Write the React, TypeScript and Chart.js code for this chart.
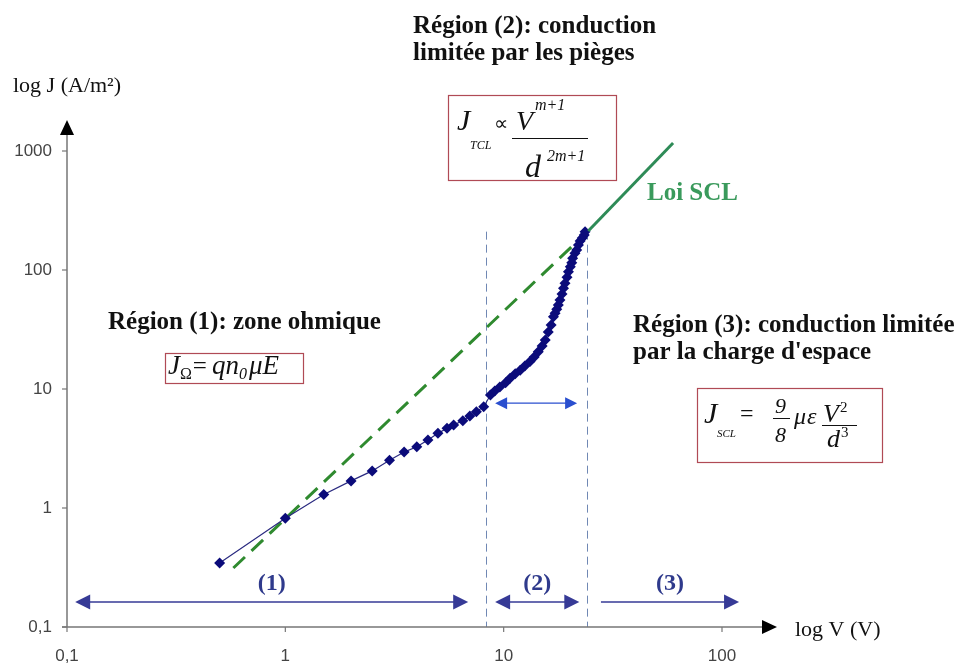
import React, { useEffect, useRef } from 'react';
import { Chart, registerables } from 'chart.js';

Chart.register(...registerables);

// ---- data ----
const voltage = [0.5, 1, 1.5, 2, 2.5, 3, 3.5, 4, 4.5, 5, 5.5, 5.9, 6.5, 7, 7.5, 8.1, 8.7, 9.1, 9.6, 10.2, 10.7, 11.3, 11.9, 12.5, 13.2, 13.8, 14.4, 15.0, 15.5, 16.0, 16.5, 16.9, 17.2, 17.5, 17.8, 18.1, 18.5, 18.8, 19.1, 19.5, 19.8, 20.2, 20.5, 20.7, 21.2, 21.6, 22.0, 22.4, 22.9, 23.4, 23.6];
const current = [0.345, 0.82, 1.3, 1.69, 2.05, 2.52, 2.95, 3.27, 3.73, 4.24, 4.67, 4.98, 5.42, 5.93, 6.44, 7.1, 8.9, 9.6, 10.4, 11.3, 12.3, 13.4, 14.4, 15.6, 17.0, 18.6, 20.6, 23.0, 25.8, 30.1, 34.5, 40.5, 43.3, 46.7, 50.8, 56.0, 62.9, 70.2, 77.3, 86.8, 96.7, 106.6, 115.2, 125.4, 138, 147.2, 162.3, 175, 186, 197, 210];

const sclDashedV = [0.578, 24.4];
const sclDashedJ = [0.313, 213];
const sclSolidV = [24.4, 59.7];
const sclSolidJ = [213, 1167];

const xTicks = [0.1, 1, 10, 100];
const yTicks = [0.1, 1, 10, 100, 1000];

const boundaryVoltage = [8.28, 24.0];
const boundaryTop = 210;

const regionLabels = ['(1)', '(2)', '(3)'];
const regionStart = [0.109, 9.14, 27.9];
const regionEnd = [6.88, 22.2, 119.7];
const regionLeftHead = [true, true, false];
const regionLevel = 0.162;

const trapArrowV = [9.14, 21.7];
const trapArrowJ = 7.6;

const SERIF = '"Liberation Serif", "Times New Roman", serif';
const SANS = '"Liberation Sans", Arial, sans-serif';

const fmtTick = (v: number) => (v < 1 ? String(v).replace('.', ',') : String(v));

function hHead(ctx: CanvasRenderingContext2D, x: number, y: number, dir: number, len: number, half: number) {
  ctx.beginPath();
  ctx.moveTo(x, y);
  ctx.lineTo(x - dir * len, y - half);
  ctx.lineTo(x - dir * len, y + half);
  ctx.closePath();
  ctx.fill();
}

function txt(ctx: CanvasRenderingContext2D, t: string, x: number, y: number, font: string, color: string) {
  ctx.font = font;
  ctx.fillStyle = color;
  ctx.fillText(t, x, y);
}

type Seg = { t: string; font: string; dx?: number; dy?: number };
function rich(ctx: CanvasRenderingContext2D, segs: Seg[], x: number, y: number, color: string) {
  let cx = x;
  ctx.fillStyle = color;
  for (const s of segs) {
    ctx.font = s.font;
    cx += s.dx ?? 0;
    ctx.fillText(s.t, cx, y + (s.dy ?? 0));
    cx += ctx.measureText(s.t).width;
  }
}

function hline(ctx: CanvasRenderingContext2D, x1: number, x2: number, y: number) {
  ctx.beginPath();
  ctx.moveTo(x1, y);
  ctx.lineTo(x2, y);
  ctx.stroke();
}

const annotations = {
  id: 'annotations',
  beforeDatasetsDraw(chart: any) {
    const { ctx, chartArea, scales } = chart;
    const x = scales.x;
    const y = scales.y;
    const left = x.getPixelForValue(xTicks[0]);
    const bottom = y.getPixelForValue(yTicks[0]);
    ctx.save();
    // boundary dashed lines
    ctx.strokeStyle = '#7088b4';
    ctx.lineWidth = 1;
    ctx.setLineDash([8, 5]);
    boundaryVoltage.forEach((v) => {
      const px = Math.round(x.getPixelForValue(v)) + 0.5;
      ctx.beginPath();
      ctx.moveTo(px, y.getPixelForValue(boundaryTop));
      ctx.lineTo(px, bottom);
      ctx.stroke();
    });
    ctx.setLineDash([]);
    // axes
    ctx.strokeStyle = '#777';
    ctx.lineWidth = 1.5;
    const axTop = chartArea.top - 31;
    const axRight = chartArea.right + 55;
    ctx.beginPath();
    ctx.moveTo(left, bottom);
    ctx.lineTo(left, axTop + 12);
    ctx.moveTo(left - 5, bottom);
    ctx.lineTo(axRight - 12, bottom);
    ctx.stroke();
    ctx.lineWidth = 1.2;
    yTicks.forEach((v) => {
      const py = y.getPixelForValue(v);
      hline(ctx, left - 5, left, py);
    });
    xTicks.forEach((v) => {
      const px = x.getPixelForValue(v);
      ctx.beginPath();
      ctx.moveTo(px, bottom);
      ctx.lineTo(px, bottom + 5);
      ctx.stroke();
    });
    ctx.fillStyle = '#000';
    ctx.beginPath();
    ctx.moveTo(left, axTop);
    ctx.lineTo(left - 7, axTop + 15);
    ctx.lineTo(left + 7, axTop + 15);
    ctx.closePath();
    ctx.fill();
    hHead(ctx, axRight, bottom, 1, 15, 7);
    ctx.restore();
  },
  afterDatasetsDraw(chart: any) {
    const { ctx, chartArea, scales } = chart;
    const x = scales.x;
    const y = scales.y;
    ctx.save();
    ctx.textBaseline = 'alphabetic';
    ctx.textAlign = 'left';

    // region arrows
    const ay = y.getPixelForValue(regionLevel);
    regionLabels.forEach((lab, i) => {
      const x1 = x.getPixelForValue(regionStart[i]);
      const x2 = x.getPixelForValue(regionEnd[i]);
      ctx.strokeStyle = '#363a96';
      ctx.fillStyle = '#363a96';
      ctx.lineWidth = 1.5;
      hline(ctx, x1 + (regionLeftHead[i] ? 10 : 0), x2 - 10, ay);
      hHead(ctx, x2, ay, 1, 15, 7.5);
      if (regionLeftHead[i]) hHead(ctx, x1, ay, -1, 15, 7.5);
      ctx.font = `bold 24px ${SERIF}`;
      ctx.fillStyle = '#2f3a8c';
      ctx.textAlign = 'center';
      ctx.fillText(lab, (x1 + x2) / 2, ay - 12);
      ctx.textAlign = 'left';
    });

    // trap region arrow
    const ty = y.getPixelForValue(trapArrowJ);
    const tx1 = x.getPixelForValue(trapArrowV[0]);
    const tx2 = x.getPixelForValue(trapArrowV[1]);
    ctx.strokeStyle = '#2a4fcf';
    ctx.fillStyle = '#2a4fcf';
    ctx.lineWidth = 1.2;
    hline(ctx, tx1 + 8, tx2 - 8, ty);
    hHead(ctx, tx2, ty, 1, 12, 6);
    hHead(ctx, tx1, ty, -1, 12, 6);

    // axis titles
    txt(ctx, 'log J (A/m\u00B2)', 13, 92, `22px ${SERIF}`, '#111');
    txt(ctx, 'log V (V)', chartArea.right + 73, 636, `22px ${SERIF}`, '#111');

    // region titles
    const bold = `bold 25px ${SERIF}`;
    txt(ctx, 'Région (2): conduction', 413, 33, bold, '#111');
    txt(ctx, 'limitée par les pièges', 413, 60, bold, '#111');
    txt(ctx, 'Loi SCL', 647, 200, bold, '#3a9a5c');
    txt(ctx, 'Région (1): zone ohmique', 108, 329, bold, '#111');
    txt(ctx, 'Région (3): conduction limitée', 633, 332, bold, '#111');
    txt(ctx, "par la charge d'espace", 633, 359, bold, '#111');

    // formula boxes
    ctx.strokeStyle = '#b04a55';
    ctx.lineWidth = 1.2;
    ctx.strokeRect(448.5, 95.5, 168, 85);
    ctx.strokeRect(165.5, 353.5, 138, 30);
    ctx.strokeRect(697.5, 388.5, 185, 74);

    const it = (s: number) => `italic ${s}px ${SERIF}`;
    const rg = (s: number) => `${s}px ${SERIF}`;
    const ink = '#111';

    // J_Omega = q n0 mu E
    rich(ctx, [
      { t: 'J', font: it(27) },
      { t: '\u03A9', font: rg(16), dy: 5 },
      { t: '=', font: rg(25), dx: 1 },
      { t: 'qn', font: it(27), dx: 5 },
      { t: '0', font: it(16), dy: 5 },
      { t: '\u03BC', font: it(27), dx: 2 },
      { t: 'E', font: it(27) },
    ], 168, 374, ink);

    // J_TCL ∝ V^(m+1) / d^(2m+1)
    txt(ctx, 'J', 457, 130, it(30), ink);
    txt(ctx, 'TCL', 470, 149, it(12), ink);
    txt(ctx, '\u221D', 494, 130, rg(20), ink);
    txt(ctx, 'V', 516, 130, it(28), ink);
    txt(ctx, 'm+1', 535, 110, it(16), ink);
    ctx.strokeStyle = ink;
    ctx.lineWidth = 1;
    hline(ctx, 512, 588, 138.5);
    txt(ctx, 'd', 525, 177, it(32), ink);
    txt(ctx, '2m+1', 547, 161, it(16), ink);

    // J_SCL = 9/8 mu eps V^2/d^3
    txt(ctx, 'J', 704, 423, it(30), ink);
    txt(ctx, 'SCL', 717, 437, it(11), ink);
    txt(ctx, '=', 740, 421, rg(24), ink);
    txt(ctx, '9', 775, 413, it(22), ink);
    hline(ctx, 773, 790, 418.5);
    txt(ctx, '8', 775, 442, it(22), ink);
    txt(ctx, '\u03BC', 794, 424, it(24), ink);
    txt(ctx, '\u03B5', 807, 424, it(24), ink);
    txt(ctx, 'V', 823, 422, it(26), ink);
    txt(ctx, '2', 840, 412, rg(15), ink);
    hline(ctx, 822, 857, 425.5);
    txt(ctx, 'd', 827, 447, it(26), ink);
    txt(ctx, '3', 841, 437, rg(15), ink);

    ctx.restore();
  },
};

export default function App() {
  const ref = useRef<HTMLCanvasElement | null>(null);
  useEffect(() => {
    if (!ref.current) return;
    const chart = new Chart(ref.current, {
      type: 'scatter',
      data: {
        datasets: [
          {
            data: voltage.map((v, i) => ({ x: v, y: current[i] })),
            showLine: true,
            borderColor: '#2a2a80',
            borderWidth: 1.2,
            pointStyle: 'rectRot',
            pointRadius: 5.5,
            pointBackgroundColor: '#0b0b7a',
            pointBorderColor: '#0b0b7a',
            pointBorderWidth: 0,
            order: 1,
          },
          {
            data: sclDashedV.map((v, i) => ({ x: v, y: sclDashedJ[i] })),
            showLine: true,
            borderColor: '#2f8a2f',
            borderWidth: 3,
            borderDash: [16, 9],
            pointRadius: 0,
            clip: false,
            order: 2,
          },
          {
            data: sclSolidV.map((v, i) => ({ x: v, y: sclSolidJ[i] })),
            showLine: true,
            borderColor: '#2e8b57',
            borderWidth: 3,
            pointRadius: 0,
            clip: false,
            order: 0,
          },
        ],
      },
      options: {
        animation: false,
        responsive: false,
        maintainAspectRatio: false,
        layout: { padding: { left: 0, top: 151, right: 238, bottom: 0 } },
        plugins: { legend: { display: false }, tooltip: { enabled: false } },
        scales: {
          x: {
            type: 'logarithmic',
            min: 0.1,
            max: 100,
            grid: { display: false },
            border: { display: false },
            afterBuildTicks: (s: any) => {
              s.ticks = xTicks.map((v) => ({ value: v }));
            },
            afterFit: (s: any) => {
              s.height = 39;
            },
            ticks: {
              autoSkip: false,
              maxRotation: 0,
              padding: 11,
              color: '#444',
              font: { family: SANS, size: 17 },
              callback: (v: any) => fmtTick(Number(v)),
            },
          },
          y: {
            type: 'logarithmic',
            min: 0.1,
            max: 1000,
            grid: { display: false },
            border: { display: false },
            afterBuildTicks: (s: any) => {
              s.ticks = yTicks.map((v) => ({ value: v }));
            },
            afterFit: (s: any) => {
              s.width = 67;
            },
            ticks: {
              autoSkip: false,
              padding: 7,
              color: '#444',
              font: { family: SANS, size: 17 },
              callback: (v: any) => fmtTick(Number(v)),
            },
          },
        },
      },
      plugins: [annotations],
    } as any);
    return () => chart.destroy();
  }, []);
  return (
    <div style={{ position: 'absolute', left: 0, top: 0, width: 960, height: 666, background: '#fff' }}>
      <canvas ref={ref} width={960} height={666} style={{ width: 960, height: 666 }} />
    </div>
  );
}
